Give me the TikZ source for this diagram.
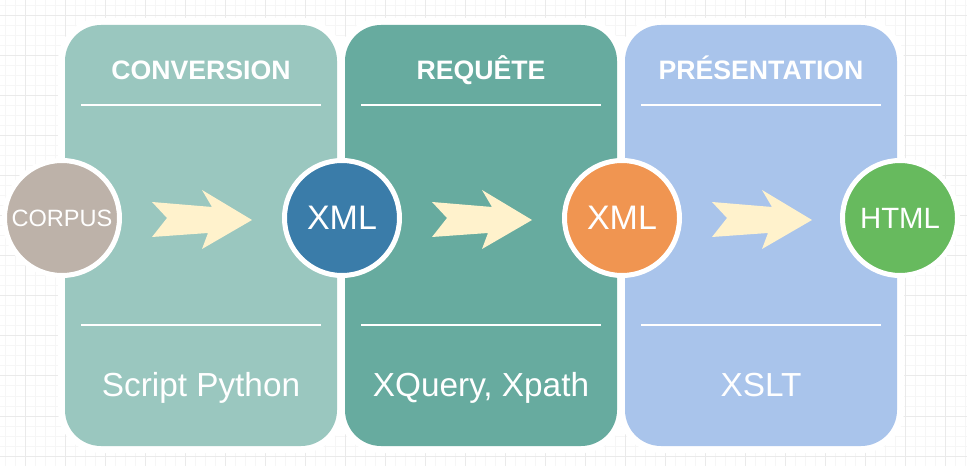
\documentclass[tikz,border=0pt]{standalone}
\usepackage{fontspec}
\setmainfont{Liberation Sans}
\definecolor{pOne}{HTML}{9AC7BF}
\definecolor{pTwo}{HTML}{67AB9F}
\definecolor{pThree}{HTML}{A9C4EB}
\definecolor{cCorpus}{HTML}{BDB2A9}
\definecolor{cXmlA}{HTML}{3A7CA9}
\definecolor{cXmlB}{HTML}{F09551}
\definecolor{cHtml}{HTML}{67BA5E}
\definecolor{arrowfill}{HTML}{FFF2CC}
\definecolor{gridminor}{HTML}{F6F6F6}
\definecolor{gridmajor}{HTML}{EAEAEA}
\begin{document}
\begin{tikzpicture}[x=0.75pt,y=-0.75pt,
  panel/.style={fill=#1, preaction={draw=white, line width=10.5pt},
    rounded corners=27pt, minimum width=204pt, minimum height=315.75pt,
    inner sep=0pt, outer sep=0pt},
  circ/.style={circle, fill=#1, draw=white, line width=3.75pt,
    minimum size=86.25pt, inner sep=0pt, text=white},
  headtext/.style={anchor=base, text=white, font=\fontsize{20pt}{24pt}\selectfont\bfseries},
  foottext/.style={anchor=base, text=white, font=\fontsize{25pt}{30pt}\selectfont},
  sepline/.style={draw=white, line width=1.5pt},
  chevron/.style={fill=arrowfill}
]
\useasboundingbox (0,0) rectangle (967,466);
\fill[white] (0,0) rectangle (967,466);
% grid
\foreach \x in {5,15,...,965} \draw[gridminor, line width=0.75pt] (\x,0) -- (\x,466);
\foreach \y in {6,16,...,466} \draw[gridminor, line width=0.75pt] (0,\y) -- (967,\y);
\foreach \x in {25,65,...,965} \draw[gridmajor, line width=0.75pt] (\x,0) -- (\x,466);
\foreach \y in {16,56,...,466} \draw[gridmajor, line width=0.75pt] (0,\y) -- (967,\y);
% panels
\node[panel=pOne] (p1) at (201,235.5) {};
\node[panel=pTwo] (p2) at (481,235.5) {};
\node[panel=pThree] (p3) at (761,235.5) {};
% headers
\node[headtext] (h1) at (201,80) {CONVERSION};
\node[headtext] (h2) at (481,80) {REQUÊTE};
\node[headtext] (h3) at (761,80) {PRÉSENTATION};
% separator lines
\foreach \x in {65,345,625} {
  \draw[sepline] (\x+16,105) -- (\x+256,105);
  \draw[sepline] (\x+16,325) -- (\x+256,325);
}
% footers
\node[foottext] (f1) at (201,397) {Script Python};
\node[foottext] (f2) at (481,397) {XQuery, Xpath};
\node[foottext] (f3) at (761,397) {XSLT};
% chevron arrows
\foreach \x in {152,432,712} {
  \fill[chevron] (\x,202) -- (\x+60,207) -- (\x+50,190) -- (\x+100,220)
    -- (\x+50,249) -- (\x+56,233) -- (\x,237) -- (\x+15,218) -- cycle;
}
% circles
\node[circ=cCorpus, font=\fontsize{17.7pt}{20pt}\selectfont] (corpus) at (62,218) {CORPUS};
\node[circ=cXmlA, font=\fontsize{25.5pt}{30pt}\selectfont] (xmlA) at (342,218) {XML};
\node[circ=cXmlB, font=\fontsize{25.5pt}{30pt}\selectfont] (xmlB) at (622,218) {XML};
\node[circ=cHtml, font=\fontsize{22pt}{26pt}\selectfont] (html) at (900,218) {HTML};
\end{tikzpicture}
\end{document}
